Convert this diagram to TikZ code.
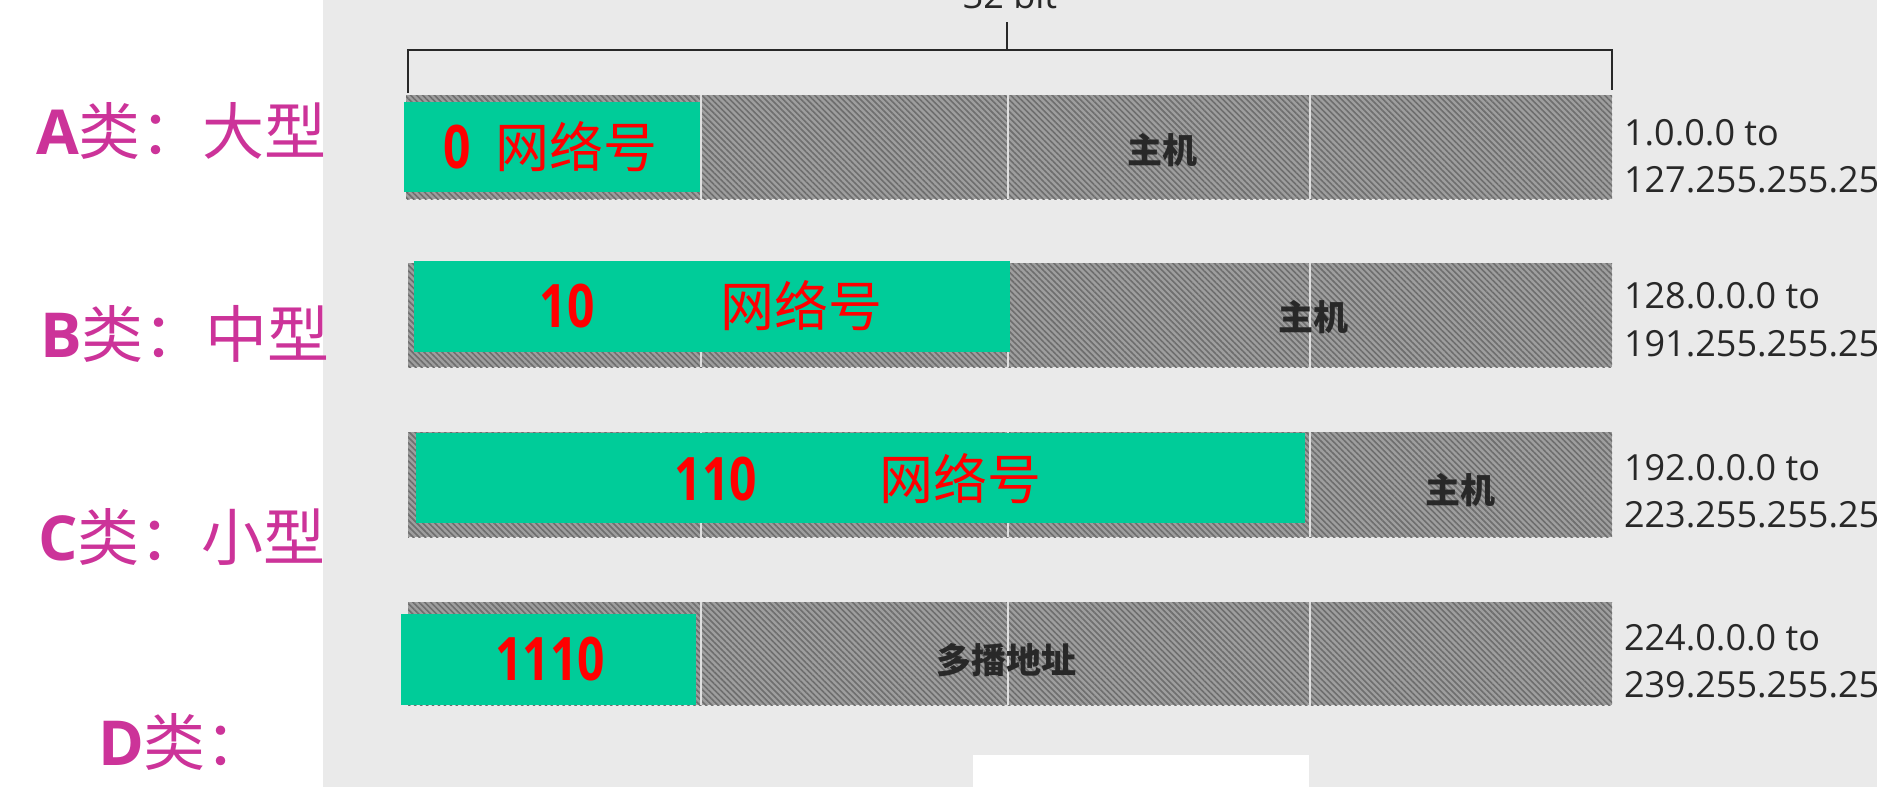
\documentclass[tikz,border=0pt]{standalone}
\usepackage{fontspec}
\usetikzlibrary{patterns.meta}
\setmainfont{Open Sans}
\newfontfamily\cjk{Noto Sans CJK SC}
\newfontfamily\latb{Open Sans}
\definecolor{mag}{RGB}{204,51,153}
\definecolor{grn}{RGB}{0,204,153}
\definecolor{scanbg}{RGB}{234,234,234}
\definecolor{bargray}{RGB}{158,158,158}
\definecolor{hatchgray}{RGB}{110,110,110}
\definecolor{ink}{RGB}{40,40,40}
\newcommand{\narrowdig}[1]{\scalebox{0.8}[1]{#1}}
\begin{document}
\begin{tikzpicture}[x=1pt,y=-1pt,
  every node/.style={inner sep=0pt, outer sep=0pt},
  hostbar/.style={fill=bargray, draw=none, anchor=north west,
    postaction={pattern={Lines[angle=-45, distance=4.2pt, line width=1.6pt]}, pattern color=hatchgray}},
  netbox/.style={fill=grn, draw=none, anchor=north west},
  classlabel/.style={text=mag, anchor=west, font=\cjk\fontsize{62}{62}\selectfont},
  reddig/.style={text=red, font=\latb\bfseries\fontsize{60}{60}\selectfont},
  redcjk/.style={text=red, font=\cjk\fontsize{54}{54}\selectfont},
  hosttxt/.style={text=ink, font=\cjk\bfseries\fontsize{35}{35}\selectfont},
  rangetxt/.style={text=ink, anchor=base west, font=\fontsize{36}{36}\selectfont},
  divider/.style={draw=gray!25, line width=2.5pt},
  bracket/.style={draw=ink, line width=2.5pt}
]
\useasboundingbox (0,0) rectangle (1890,807);
\fill[white] (0,0) rectangle (1890,807);
\begin{scope}
\clip (323,0) rectangle (1877,787);
\fill[scanbg] (323,0) rectangle (1877,787);
% bracket
\coordinate (bl) at (408,93);
\coordinate (tl) at (408,50);
\coordinate (tm) at (1007,50);
\coordinate (tt) at (1007,22);
\coordinate (tr) at (1612,50);
\coordinate (br) at (1612,90);
\draw[bracket] (bl) -- (tl) -- (tr) -- (br);
\draw[bracket] (tt) -- (tm);
\node[text=ink, anchor=base, font=\fontsize{36}{36}\selectfont] (bits) at (1010,8) {32 bit};
% host bars
\node[hostbar, minimum width=1206pt, minimum height=104pt] (barA) at (406,95) {};
\node[hostbar, minimum width=1204pt, minimum height=104pt] (barB) at (408,263) {};
\node[hostbar, minimum width=1204pt, minimum height=105pt] (barC) at (408,432) {};
\node[hostbar, minimum width=1204pt, minimum height=103pt] (barD) at (408,602) {};
\foreach \b in {barA,barB,barC,barD}{
  \foreach \x in {701,1008,1310}{
    \draw[divider] (\x,0 |- \b.north) -- (\x,0 |- \b.south);
  }
}
% host labels
\node[hosttxt] (hA) at (1162,150) {主机};
\node[hosttxt] (hB) at (1313,317) {主机};
\node[hosttxt] (hC) at (1460,490) {主机};
\node[hosttxt] (hD) at (1006,660) {多播地址};
% green network boxes
\node[netbox, minimum width=296pt, minimum height=90pt] (gA) at (404,102) {};
\node[netbox, minimum width=596pt, minimum height=91pt] (gB) at (414,261) {};
\node[netbox, minimum width=889pt, minimum height=90pt] (gC) at (416,433) {};
\node[netbox, minimum width=295pt, minimum height=91pt] (gD) at (401,614) {};
% red texts
\node[reddig] (dA) at (457,147) {\narrowdig{0}};
\node[redcjk] (nA) at (576,147) {网络号};
\node[reddig] (dB) at (567,306) {\narrowdig{10}};
\node[redcjk] (nB) at (801,306) {网络号};
\node[reddig] (dC) at (716,479) {\narrowdig{110}};
\node[redcjk] (nC) at (960,479) {网络号};
\node[reddig] (dD) at (550,659) {\narrowdig{1110}};
% address ranges
\node[rangetxt] (rA1) at (1624,145) {1.0.0.0 to};
\node[rangetxt] (rA2) at (1624,192) {127.255.255.255};
\node[rangetxt] (rB1) at (1624,308) {128.0.0.0 to};
\node[rangetxt] (rB2) at (1624,356) {191.255.255.255};
\node[rangetxt] (rC1) at (1624,480) {192.0.0.0 to};
\node[rangetxt] (rC2) at (1624,527) {223.255.255.255};
\node[rangetxt] (rD1) at (1624,650) {224.0.0.0 to};
\node[rangetxt] (rD2) at (1624,697) {239.255.255.255};
% white patch at bottom
\fill[white] (973,755) rectangle (1309,790);
\end{scope}
% class labels
\node[classlabel] (cA) at (36,131) {{\latb\bfseries A}类：大型};
\node[classlabel] (cB) at (40,334) {{\latb\bfseries B}类：中型};
\node[classlabel] (cC) at (38,537) {{\latb\bfseries C}类：小型};
\node[classlabel] (cD) at (98,742) {{\latb\bfseries D}类：};
\end{tikzpicture}
\end{document}
